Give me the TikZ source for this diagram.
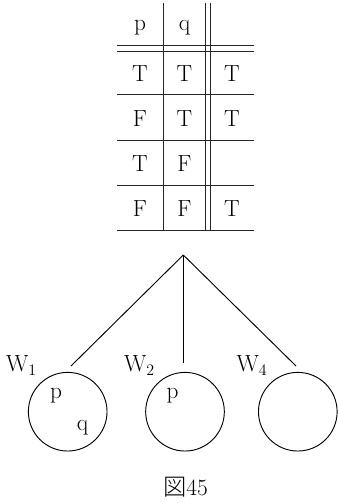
\documentclass[tikz,border=0pt]{standalone}
\usepackage{fontspec}
\newfontfamily\cjk{Noto Sans CJK JP Light}
\begin{document}
\begin{tikzpicture}[x=0.75pt,y=-0.75pt,
  rule/.style={line width=0.7pt, black!85},
  cell/.style={font=\fontsize{17.5}{20}\selectfont, inner sep=0pt, anchor=base},
  world/.style={circle, draw, line width=0.7pt, minimum size=59pt, inner sep=0pt},
  branch/.style={line width=0.7pt}]
\useasboundingbox (0,0) rectangle (338,503);

% truth table rules
\draw[rule] (117,45.3) -- (254,45.3);
\draw[rule] (117,51) -- (254,51);
\draw[rule] (117,94.3) -- (254,94.3);
\draw[rule] (117,140) -- (254,140);
\draw[rule] (117,185) -- (254,185);
\draw[rule] (117,230.7) -- (254,230.7);
\draw[rule] (163.3,3) -- (163.3,231);
\draw[rule] (205.7,3) -- (205.7,231);
\draw[rule] (210,3) -- (210,231);

% header
\node[cell] (hp) at (140,31) {p};
\node[cell] (hq) at (184.5,31) {q};

% rows
\node[cell] (a1) at (140,81.7) {T};
\node[cell] (b1) at (184.5,81.7) {T};
\node[cell] (c1) at (232,81.7) {T};
\node[cell] (a2) at (140,126.7) {F};
\node[cell] (b2) at (184.5,126.7) {T};
\node[cell] (c2) at (232,126.7) {T};
\node[cell] (a3) at (140,171.7) {T};
\node[cell] (b3) at (184.5,171.7) {F};
\node[cell] (a4) at (140,216.7) {F};
\node[cell] (b4) at (184.5,216.7) {F};
\node[cell] (c4) at (232,216.7) {T};

% tree of worlds
\coordinate (root) at (183.3,255);
\coordinate (e1) at (71,366);
\coordinate (e2) at (183.3,363.3);
\coordinate (e3) at (296,366);
\draw[branch] (root) -- (e1);
\draw[branch] (root) -- (e2);
\draw[branch] (root) -- (e3);

\node[world] (w1) at (67.7,411.7) {};
\node[world] (w2) at (185,411.7) {};
\node[world] (w4) at (297.8,411.7) {};

\node[cell] (l1) at (21.5,371.7) {W$_1$};
\node[cell] (l2) at (139.5,371.7) {W$_2$};
\node[cell] (l4) at (252,371.7) {W$_4$};

\node[cell] (p1) at (56,398) {p};
\node[cell] (q1) at (82.5,430) {q};
\node[cell] (p2) at (172.5,398) {p};

\node[cell] (cap) at (185.5,495.5) {{\cjk 図}45};
\end{tikzpicture}
\end{document}
